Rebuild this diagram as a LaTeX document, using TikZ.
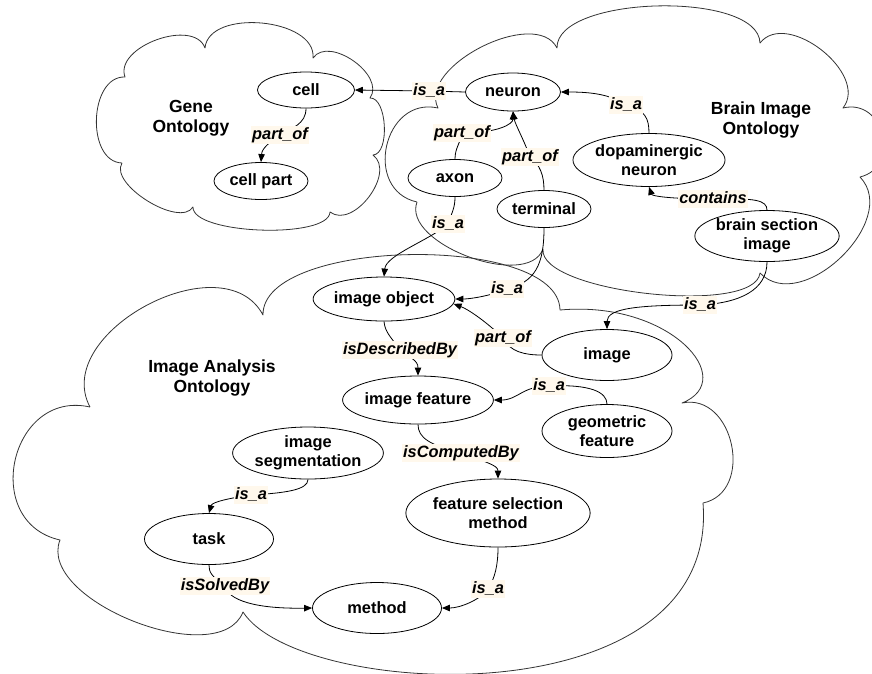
\documentclass[tikz,border=0pt]{standalone}
\usepackage{fontspec}
\setmainfont{Liberation Sans}
\usetikzlibrary{shapes.geometric,arrows.meta,calc,backgrounds}
\definecolor{labelbg}{RGB}{255,248,236}
\begin{document}
\begin{tikzpicture}[x=1pt,y=-1pt,
  conceptnode/.style={ellipse,draw,line width=0.8pt,fill=white,inner sep=0pt,align=center,font=\bfseries\fontsize{16.4}{19}\selectfont},
  rel/.style={fill=labelbg,inner sep=1pt,text height=12pt,text depth=3.5pt,font=\bfseries\itshape\fontsize{16.4}{19}\selectfont},
  cloudtitle/.style={align=center,font=\bfseries\fontsize{17.5}{20}\selectfont},
  conn/.style={line width=0.8pt,-{Triangle[length=8pt,width=6.5pt]}},
  cloudline/.style={draw=black!80,line width=0.8pt,line join=round},
  lobe/.style={to path={.. controls ($(\tikztostart)!#1!90:(\tikztotarget)$) and ($(\tikztotarget)!#1!-90:(\tikztostart)$) .. (\tikztotarget)}}
]
\useasboundingbox (0,0) rectangle (872,673);

% cloud titles
\node[cloudtitle] (tgene) at (191,118) {Gene\\Ontology};
\node[cloudtitle] (tbrain) at (761,120) {Brain Image\\Ontology};
\node[cloudtitle] (tia) at (212,378) {Image Analysis\\Ontology};

% concepts
\node[conceptnode,minimum width=97pt,minimum height=36pt] (cell) at (306,90) {cell};
\node[conceptnode,minimum width=94pt,minimum height=37pt] (cellpart) at (261,181) {cell part};
\node[conceptnode,minimum width=95pt,minimum height=38pt] (neuron) at (513,92) {neuron};
\node[conceptnode,minimum width=94pt,minimum height=37pt] (axon) at (455,178) {axon};
\node[conceptnode,minimum width=94pt,minimum height=37pt] (terminal) at (544,209) {terminal};
\node[conceptnode,minimum width=129pt,minimum height=53pt] (dopa) at (649,160) {dopaminergic\\neuron};
\node[conceptnode,minimum width=130pt,minimum height=51pt] (bsi) at (767,236) {brain section\\image};
\node[conceptnode,minimum width=129pt,minimum height=44pt] (imgobj) at (384,299) {image object};
\node[conceptnode,minimum width=130pt,minimum height=51pt] (image) at (607,355) {image};
\node[conceptnode,minimum width=129pt,minimum height=48pt] (imgfeat) at (418,400) {image feature};
\node[conceptnode,minimum width=130pt,minimum height=53pt] (geofeat) at (607,431) {geometric\\feature};
\node[conceptnode,minimum width=129pt,minimum height=52pt] (imgseg) at (308,453) {image\\segmentation};
\node[conceptnode,minimum width=129pt,minimum height=51pt] (task) at (209,539) {task};
\node[conceptnode,minimum width=170pt,minimum height=68pt] (fsm) at (498,513) {feature selection\\method};
\node[conceptnode,minimum width=129pt,minimum height=51pt] (method) at (377,608) {method};

% relation labels
\node[rel] (r1) at (429,91) {is\_a};
\node[rel] (r2) at (280,135) {part\_of};
\node[rel] (r3) at (462,133) {part\_of};
\node[rel] (r4) at (530,157) {part\_of};
\node[rel] (r5) at (626,105) {is\_a};
\node[rel] (r6) at (713,199) {contains};
\node[rel] (r7) at (448,224) {is\_a};
\node[rel] (r8) at (507,289) {is\_a};
\node[rel] (r9) at (700,305) {is\_a};
\node[rel] (r10) at (503,338) {part\_of};
\node[rel] (r11) at (400,350) {isDescribedBy};
\node[rel] (r12) at (549,386) {is\_a};
\node[rel] (r13) at (461,453) {isComputedBy};
\node[rel] (r14) at (251,495) {is\_a};
\node[rel] (r15) at (225,586) {isSolvedBy};
\node[rel] (r16) at (488,589) {is\_a};

\begin{scope}[on background layer]
% Gene Ontology cloud
\draw[cloudline] (122,163) to[lobe=0.42] (125,77) to[lobe=0.38] (205,48) to[lobe=0.37] (313,58)
  to[lobe=0.4] (370,98) to[lobe=0.3] (373,155) to[lobe=0.41] (330,212) to[lobe=0.2] (193,207)
  to[lobe=0.3] (122,163);
% Brain Image Ontology cloud
\draw[cloudline] (417,202) to[lobe=0.58] (438,108) to[lobe=0.35] (557,48) to[lobe=0.26] (760,43)
  to[lobe=0.41] (843,108) to[lobe=0.6] (860,177) to[lobe=0.43] (760,273) to[lobe=0.2] (543,249)
  to[lobe=0.33] (417,202);
% Image Analysis Ontology cloud
\draw[cloudline] (90,407) to[lobe=0.43] (263,315) to[lobe=0.26] (560,310)
  .. controls (670,300) and (740,380) .. (682,403)
  to[lobe=0.52] (703,503) .. controls (720,720) and (300,700) .. (243,612)
  to[lobe=0.33] (60,540) to[lobe=0.6] (90,407);

% connectors
\draw[conn] (neuron.west) -- (r1.center) -- (cell.east);
\draw[conn] (cell.south) .. controls (306,124) and (292,128) .. (r2.center) .. controls (270,142) and (262,148) .. (cellpart.north);
\draw[conn] (axon.north) .. controls (455,148) and (460,144) .. (r3.center) .. controls (498,133) and (513,124) .. (neuron.south);
\draw[conn] (terminal.north) .. controls (544,175) and (540,165) .. (r4.center) .. controls (524,140) and (515,124) .. (neuron.south);
\draw[conn] (dopa.north) .. controls (649,118) and (645,110) .. (r5.center) .. controls (610,94) and (590,92) .. (neuron.east);
\draw[conn] (bsi.north) .. controls (767,200) and (755,198) .. (r6.center) .. controls (670,199) and (652,196) .. (dopa.south);
\draw[conn] (axon.south) .. controls (455,208) and (452,212) .. (r7.center) .. controls (430,240) and (386,255) .. (imgobj.north);
\draw[conn] (terminal.south) .. controls (544,265) and (535,282) .. (r8.center) .. controls (490,296) and (470,299) .. (imgobj.east);
\draw[conn] (bsi.south) .. controls (767,290) and (740,303) .. (r9.center) .. controls (640,305) and (607,308) .. (image.north);
\draw[conn] (image.west) .. controls (525,355) and (510,352) .. (r10.center) .. controls (490,325) and (470,310) .. (imgobj.-4);
\draw[conn] (imgobj.south) .. controls (385,333) and (392,338) .. (r11.center) .. controls (410,358) and (418,360) .. (imgfeat.north);
\draw[conn] (geofeat.north) .. controls (607,392) and (590,384) .. (r12.center) .. controls (522,386) and (518,400) .. (imgfeat.east);
\draw[conn] (imgfeat.south) .. controls (418,438) and (430,445) .. (r13.center) .. controls (485,462) and (498,465) .. (fsm.north);
\draw[conn] (imgseg.south) .. controls (308,490) and (285,493) .. (r14.center) .. controls (230,498) and (212,502) .. (task.north);
\draw[conn] (task.south) .. controls (209,572) and (211,576) .. (r15.center) .. controls (228,600) and (255,609) .. (method.west);
\draw[conn] (fsm.south) .. controls (498,565) and (495,578) .. (r16.center) .. controls (480,600) and (460,608) .. (method.east);
\end{scope}
\end{tikzpicture}
\end{document}
